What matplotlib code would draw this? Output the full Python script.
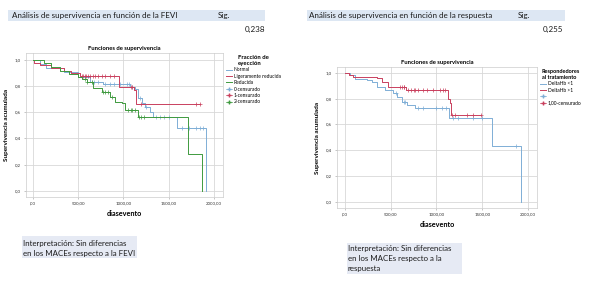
import numpy as np
import matplotlib
matplotlib.use("Agg")
import matplotlib.pyplot as plt
from matplotlib.lines import Line2D
from matplotlib.patches import Rectangle

plt.rcParams['font.family'] = ['Lato', 'DejaVu Sans']

# ---- left chart: FEVI groups ----
normal_t = [0, 80, 150, 340, 500, 630, 780, 1073, 1130, 1165, 1202, 1239, 1294, 1330, 1590, 1915]
normal_s = [1.0, 0.97, 0.94, 0.905, 0.87, 0.83, 0.82, 0.796, 0.78, 0.707, 0.669, 0.643, 0.605, 0.563, 0.48, 0.0]
normal_end = 1915
normal_cens = [650, 680, 720, 800, 850, 900, 960, 1040, 1060, 1100, 1180, 1250, 1360, 1400, 1450, 1500,
               1650, 1720, 1800, 1850, 1880]

lig_t = [0, 10, 80, 200, 340, 420, 520, 953, 1120, 1137]
lig_s = [1.0, 0.98, 0.96, 0.94, 0.92, 0.90, 0.877, 0.79, 0.77, 0.66]
lig_end = 1847
lig_cens = [545, 560, 575, 590, 610, 630, 660, 690, 720, 760, 800, 850, 900, 1080, 1100, 1200, 1803, 1847]

red_t = [0, 120, 200, 300, 400, 503, 540, 595, 669, 761, 853, 908, 981, 1018, 1163, 1713, 1868]
red_s = [1.0, 0.975, 0.95, 0.92, 0.895, 0.872, 0.855, 0.834, 0.783, 0.757, 0.72, 0.68, 0.669, 0.617, 0.561, 0.28, 0.0]
red_end = 1868
red_cens = [580, 600, 650, 770, 800, 830, 880, 1050, 1080, 1100, 1130, 1170, 1200, 1230]

# ---- right chart: respuesta ----
dlow_t = [0, 55, 109, 236, 291, 346, 437, 528, 565, 619, 674, 765, 1132, 1605, 1922]
dlow_s = [1.0, 0.98, 0.954, 0.943, 0.929, 0.89, 0.865, 0.84, 0.815, 0.776, 0.75, 0.725, 0.652, 0.433, 0.0]
dlow_end = 1922
dlow_cens = [560, 640, 655, 800, 850, 1000, 1060, 1100, 1185, 1240, 1404, 1495, 1867]

dhigh_t = [0, 47, 90, 346, 400, 473, 663, 1130, 1148, 1155]
dhigh_s = [1.0, 0.985, 0.965, 0.957, 0.93, 0.892, 0.866, 0.80, 0.763, 0.673]
dhigh_end = 1490
dhigh_cens = [600, 620, 640, 650, 690, 720, 750, 770, 800, 850, 900, 960, 1039, 1069, 1094,
              1167, 1203, 1338, 1404, 1485]

xticks = [0, 500, 1000, 1500, 2000]
xtick_labels = [',00', '500,00', '1000,00', '1500,00', '2000,00']
yticks = [0.0, 0.2, 0.4, 0.6, 0.8, 1.0]
ytick_labels = ['0,0', '0,2', '0,4', '0,6', '0,8', '1,0']

BLUE = '#7eaed6'
RED = '#c9405e'
GREEN = '#3f9a3f'
TXT = '#1a1a1a'

W, H = 600, 296
fig = plt.figure(figsize=(6, 2.96), dpi=100)


def px_axes(x0, y0, x1, y1):
    return fig.add_axes([x0 / W, 1 - y1 / H, (x1 - x0) / W, (y1 - y0) / H])


def km(ax, t, s, end, cens, color):
    t = np.array(t, float)
    s = np.array(s, float)
    ax.step(np.append(t, end), np.append(s, s[-1]), where='post', color=color, lw=0.7)
    c = np.array(cens, float)
    cy = s[np.searchsorted(t, c, side='right') - 1]
    ax.plot(c, cy, '+', color=color, ms=2.2, mew=0.5)


def style(ax, xlim, ylim):
    ax.set_xlim(*xlim)
    ax.set_ylim(*ylim)
    ax.set_xticks(xticks)
    ax.set_xticklabels(xtick_labels)
    ax.set_yticks(yticks)
    ax.set_yticklabels(ytick_labels)
    ax.grid(True, color='#d8d8d8', lw=0.6)
    ax.set_axisbelow(True)
    ax.tick_params(labelsize=3.2, length=1.5, width=0.4, color='#999999', pad=2, labelcolor='#333333')
    for sp in ax.spines.values():
        sp.set_color('#cccccc')
        sp.set_linewidth(0.5)
    ax.set_title('Funciones de supervivencia', fontsize=4.2, fontweight='bold', pad=2.5)
    ax.set_xlabel('diasevento', fontsize=5.2, fontweight='bold', labelpad=3)
    ax.set_ylabel('Supervivencia acumulada', fontsize=4.6, fontweight='bold', labelpad=4)


# left chart
ax1 = px_axes(26, 53, 223, 197)
km(ax1, normal_t, normal_s, normal_end, normal_cens, BLUE)
km(ax1, lig_t, lig_s, lig_end, lig_cens, RED)
km(ax1, red_t, red_s, red_end, red_cens, GREEN)
style(ax1, (-74, 2099), (-0.048, 1.054))
h1 = [Line2D([], [], color=BLUE, lw=0.7), Line2D([], [], color=RED, lw=0.7),
      Line2D([], [], color=GREEN, lw=0.7),
      Line2D([], [], color=BLUE, lw=0.5, marker='+', ms=2.5), Line2D([], [], color=RED, lw=0.5, marker='+', ms=2.5),
      Line2D([], [], color=GREEN, lw=0.5, marker='+', ms=2.5)]
ax1.legend(h1, ['Normal', 'Ligeramente reducida', 'Reducida', '0-censurado', '1-censurado', '2-censurado'],
           loc='upper left', bbox_to_anchor=(1.005, 1.0), frameon=False, fontsize=3.5,
           title='Fracción de\neyección', title_fontproperties={'size': 4.3, 'weight': 'bold'},
           handlelength=1.3, handletextpad=0.3, labelspacing=0.3, borderaxespad=0)

# right chart
ax2 = px_axes(337, 67, 537, 208)
km(ax2, dlow_t, dlow_s, dlow_end, dlow_cens, BLUE)
km(ax2, dhigh_t, dhigh_s, dhigh_end, dhigh_cens, RED)
style(ax2, (-87, 2098), (-0.046, 1.044))
h2 = [Line2D([], [], color=BLUE, lw=0.7), Line2D([], [], color=RED, lw=0.7),
      Line2D([], [], color=BLUE, lw=0.5, marker='+', ms=2.5), Line2D([], [], color=RED, lw=0.5, marker='+', ms=2.5)]
ax2.legend(h2, ['DeltaHb <1', 'DeltaHb >1', '', '1,00-censurado'],
           loc='upper left', bbox_to_anchor=(1.005, 1.0), frameon=False, fontsize=3.5,
           title='Respondedores\nal tratamiento', title_fontproperties={'size': 4.0, 'weight': 'bold'},
           handlelength=1.3, handletextpad=0.3, labelspacing=0.3, borderaxespad=0)

# header bars and text (pixel coordinates)
ov = fig.add_axes([0, 0, 1, 1], zorder=-1)
ov.set_xlim(0, W)
ov.set_ylim(H, 0)
ov.axis('off')
ov.add_patch(Rectangle((8, 9.5), 257, 11.5, color='#dde7f3', lw=0))
ov.add_patch(Rectangle((307, 9.5), 258, 11.5, color='#dde7f3', lw=0))
ov.text(12, 15.5, 'Análisis de supervivencia en función de la FEVI', fontsize=5.75, va='center', color=TXT)
ov.text(218, 15.5, 'Sig.', fontsize=5.75, va='center', color=TXT)
ov.text(265, 29.5, '0,238', fontsize=5.75, va='center', ha='right', color=TXT)
ov.text(309, 15.5, 'Análisis de supervivencia en función de la respuesta', fontsize=5.75, va='center', color=TXT)
ov.text(518, 15.5, 'Sig.', fontsize=5.75, va='center', color=TXT)
ov.text(563, 29.5, '0,255', fontsize=5.75, va='center', ha='right', color=TXT)

ov.add_patch(Rectangle((22, 236), 115, 22, color='#e6eaf4', lw=0))
ov.text(23, 243.5, 'Interpretación: Sin diferencias', fontsize=5.65, va='center', color=TXT)
ov.text(23, 253.5, 'en los MACEs respecto a la FEVI', fontsize=5.65, va='center', color=TXT)
ov.add_patch(Rectangle((347, 243), 115, 31, color='#e6eaf4', lw=0))
ov.text(348, 249, 'Interpretación: Sin diferencias', fontsize=5.65, va='center', color=TXT)
ov.text(348, 259, 'en los MACEs respecto a la', fontsize=5.65, va='center', color=TXT)
ov.text(348, 269, 'respuesta', fontsize=5.65, va='center', color=TXT)

fig.savefig('out.png', dpi=100)
